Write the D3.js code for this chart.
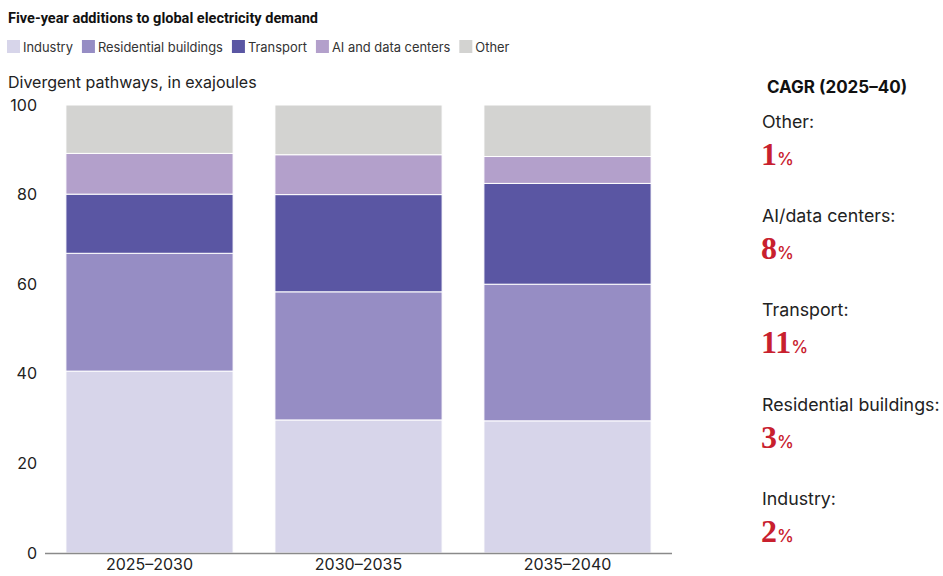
<!DOCTYPE html>
<html>
<head>
<meta charset="utf-8">
<script src="https://cdn.jsdelivr.net/npm/d3@7"></script>
<style>
  html, body { margin: 0; padding: 0; background: #fff; }
  svg { display: block; font-family: Inter, Roboto, "Noto Sans", sans-serif; }
</style>
</head>
<body>
<svg id="chart" width="943" height="576"></svg>
<script>
// Five-year periods on the x axis
const periods = ["2025\u20132030", "2030\u20132035", "2035\u20132040"];

// Demand additions per sector, exajoules, stacked bottom to top
const sectors = ["Industry", "Residential buildings", "Transport", "AI and data centers", "Other"];
const industry    = [40.6, 29.7, 29.5];
const residential = [26.3, 28.6, 30.5];
const transport   = [13.2, 21.7, 22.5];
const aiData      = [9.1, 8.9, 6.0];
const other       = [10.8, 11.1, 11.5];

const yTicks = [0, 20, 40, 60, 80, 100];

// Compound annual growth rates, listed top to bottom
const cagrLabels = ["Other:", "AI/data centers:", "Transport:", "Residential buildings:", "Industry:"];
const cagrValues = [1, 8, 11, 3, 2];

const colors = ["#d7d5ea", "#968dc4", "#5a56a3", "#b3a0cb", "#d3d3d1"];

const rows = periods.map((p, i) => ({
  period: p,
  "Industry": industry[i],
  "Residential buildings": residential[i],
  "Transport": transport[i],
  "AI and data centers": aiData[i],
  "Other": other[i]
}));

const svg = d3.select("#chart");
const textColor = "#222";

const x = d3.scaleBand().domain(periods).range([45, 672]).paddingInner(0.2).paddingOuter(0.1);
const y = d3.scaleLinear().domain([0, 100]).range([553, 105]);
const color = d3.scaleOrdinal().domain(sectors).range(colors);

// Title
svg.append("text")
  .attr("x", 8).attr("y", 23)
  .attr("font-family", "Roboto, sans-serif")
  .attr("font-size", 15).attr("font-weight", 700)
  .attr("fill", "#111")
  .attr("textLength", 310).attr("lengthAdjust", "spacingAndGlyphs")
  .text("Five-year additions to global electricity demand");

// Legend, laid out left to right
const legend = svg.append("g").attr("transform", "translate(7,40)");
let lx = 0;
sectors.forEach(s => {
  const g = legend.append("g").attr("transform", `translate(${lx},0)`);
  g.append("rect").attr("width", 13).attr("height", 13).attr("fill", color(s));
  const t = g.append("text").attr("x", 16).attr("y", 11.5)
    .attr("font-size", 12.9).attr("fill", "#333").text(s);
  lx += 16 + t.node().getComputedTextLength() + 9;
});

// Unit label
svg.append("text")
  .attr("x", 8).attr("y", 88)
  .attr("font-size", 16).attr("fill", textColor)
  .text("Divergent pathways, in exajoules");

// Stacked bars
const series = d3.stack().keys(sectors)(rows);
svg.append("g").selectAll("g")
  .data(series).join("g")
  .attr("fill", d => color(d.key))
  .selectAll("rect")
  .data(d => d).join("rect")
  .attr("x", d => x(d.data.period))
  .attr("width", x.bandwidth())
  .attr("y", d => y(d[1]))
  .attr("height", d => y(d[0]) - y(d[1]))
  .attr("stroke", "#fff").attr("stroke-width", 1);

// Y axis
const yAxis = svg.append("g")
  .attr("transform", "translate(45,0)")
  .call(d3.axisLeft(y).tickValues(yTicks).tickSize(0).tickPadding(8))
  .attr("font-family", null).attr("font-size", 16);
yAxis.select(".domain").remove();
yAxis.selectAll("text").attr("fill", textColor);

// X axis
const xAxis = svg.append("g")
  .attr("transform", "translate(0,553)")
  .call(d3.axisBottom(x).tickSize(0).tickPadding(6))
  .attr("font-family", null).attr("font-size", 16);
xAxis.select(".domain").attr("stroke", "#8a8a8a").attr("stroke-width", 1.5)
  .attr("d", "M45,0.5H672");
xAxis.selectAll("text").attr("fill", textColor);

// CAGR panel
svg.append("text")
  .attr("x", 767).attr("y", 93)
  .attr("font-size", 17).attr("font-weight", 700).attr("fill", "#111")
  .text("CAGR (2025\u201340)");

const panel = svg.append("g");
cagrLabels.forEach((lab, i) => {
  const base = 128 + i * 94.2;
  panel.append("text")
    .attr("x", 762).attr("y", base)
    .attr("font-size", 17.8).attr("fill", textColor)
    .text(lab);
  const v = panel.append("text")
    .attr("x", 761).attr("y", base + 37)
    .attr("fill", "#c8202e")
    .attr("font-family", "'Liberation Serif', 'DejaVu Serif', serif")
    .attr("font-weight", 700);
  v.append("tspan").attr("font-size", 32).text(cagrValues[i]);
  v.append("tspan").attr("font-size", 17).attr("font-family", "Inter, sans-serif").attr("font-weight", 500).text("%");
});
</script>
</body>
</html>
